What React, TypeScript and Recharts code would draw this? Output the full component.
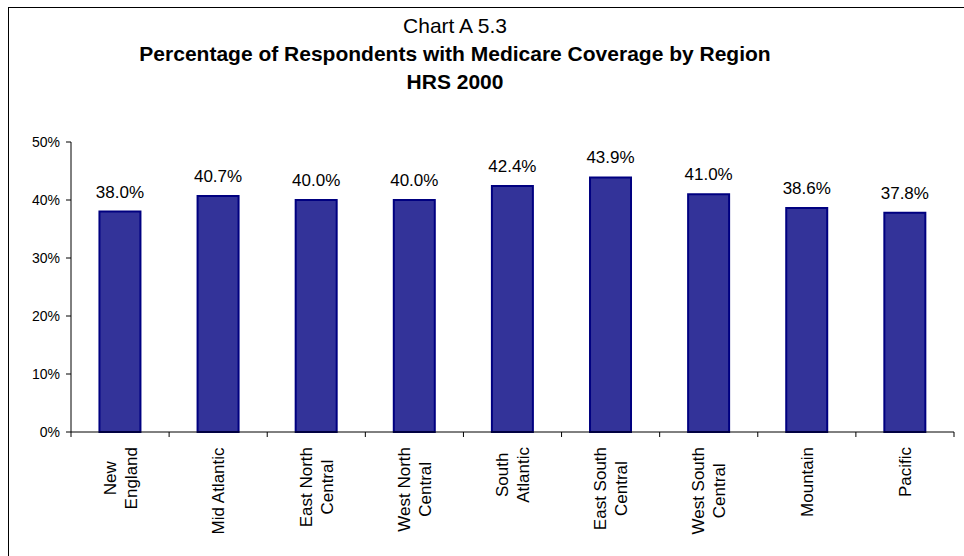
import React from "react";
import { BarChart, Bar, XAxis, YAxis, LabelList } from "recharts";

const regions = [
  "New\nEngland",
  "Mid Atlantic",
  "East North\nCentral",
  "West North\nCentral",
  "South\nAtlantic",
  "East South\nCentral",
  "West South\nCentral",
  "Mountain",
  "Pacific",
];
const coverage = [38.0, 40.7, 40.0, 40.0, 42.4, 43.9, 41.0, 38.6, 37.8];
const yTicks = [0, 10, 20, 30, 40, 50];

const FONT = "'Liberation Sans', Arial, Helvetica, sans-serif";
const W = 956;
const H = 549;
const LEFT = 63;
const RIGHT = 10;
const BAND = (W - LEFT - RIGHT) / regions.length;

const data = regions.map((name, i) => ({ name, value: coverage[i] }));

let ctx: CanvasRenderingContext2D | null = null;
const textWidth = (s: string) => {
  if (!ctx) ctx = document.createElement("canvas").getContext("2d");
  if (!ctx) return s.length * 8;
  ctx.font = `17px ${FONT}`;
  return ctx.measureText(s).width;
};

// category labels are rotated, multi-line and centred on each other
const RegionTick = (props: any) => {
  const { x, y, payload, index } = props;
  const lines = String(payload.value).split("\n");
  const maxW = Math.max(...lines.map(textWidth));
  const n = lines.length;
  return (
    <g>
      <line x1={x - BAND / 2} y1={y} x2={x - BAND / 2} y2={y + 5} stroke="#000" />
      {index === regions.length - 1 && (
        <line x1={x + BAND / 2} y1={y} x2={x + BAND / 2} y2={y + 5} stroke="#000" />
      )}
      <g transform={`translate(${x},${y}) rotate(-90)`}>
        {lines.map((l, i) => (
          <text
            key={i}
            x={-(15 + maxW / 2)}
            y={(i - (n - 1) / 2) * 21 + 6}
            textAnchor="middle"
            fontSize={17}
            fontFamily={FONT}
            fill="#000"
          >
            {l}
          </text>
        ))}
      </g>
    </g>
  );
};

export default function App() {
  const titleStyle: React.CSSProperties = {
    position: "absolute",
    left: 455 - 8 - 400,
    width: 800,
    textAlign: "center",
    fontFamily: FONT,
    fontSize: 21,
    lineHeight: "21px",
    color: "#000",
    whiteSpace: "nowrap",
  };
  return (
    <div style={{ position: "fixed", left: 8, top: 7, width: W, height: H, overflow: "hidden", background: "#fff" }}>
      <div
        style={{
          position: "absolute",
          left: 0,
          top: 0,
          width: W + 20,
          height: H + 20,
          borderTop: "1px solid #000",
          borderLeft: "1px solid #000",
        }}
      />
      <div style={{ ...titleStyle, top: 8 }}>Chart A 5.3</div>
      <div style={{ ...titleStyle, top: 36, fontWeight: "bold" }}>
        Percentage of Respondents with Medicare Coverage by Region
      </div>
      <div style={{ ...titleStyle, top: 64, fontWeight: "bold" }}>HRS 2000</div>
      <div style={{ position: "absolute", left: 0, top: 0 }}>
        <BarChart
          width={W}
          height={H}
          data={data}
          margin={{ top: 135, right: RIGHT, left: 0, bottom: 0 }}
          barCategoryGap="29%"
        >
          <XAxis
            dataKey="name"
            interval={0}
            height={H - 135 - 290}
            axisLine={{ stroke: "#000" }}
            tickLine={false}
            tickSize={0}
            tickMargin={0}
            tick={<RegionTick />}
          />
          <YAxis
            width={LEFT}
            domain={[0, 50]}
            ticks={yTicks}
            interval={0}
            tickFormatter={(v: number) => `${v}%`}
            axisLine={{ stroke: "#000" }}
            tickLine={{ stroke: "#000" }}
            tickSize={5}
            tickMargin={6}
            tick={{ fontSize: 14, fill: "#000", fontFamily: FONT }}
          />
          <Bar dataKey="value" fill="#333399" stroke="#000080" strokeWidth={2} isAnimationActive={false}>
            <LabelList
              dataKey="value"
              position="top"
              offset={14}
              formatter={(v: any) => `${Number(v).toFixed(1)}%`}
              style={{ fontSize: 17, fill: "#000", fontFamily: FONT }}
            />
          </Bar>
        </BarChart>
      </div>
    </div>
  );
}
